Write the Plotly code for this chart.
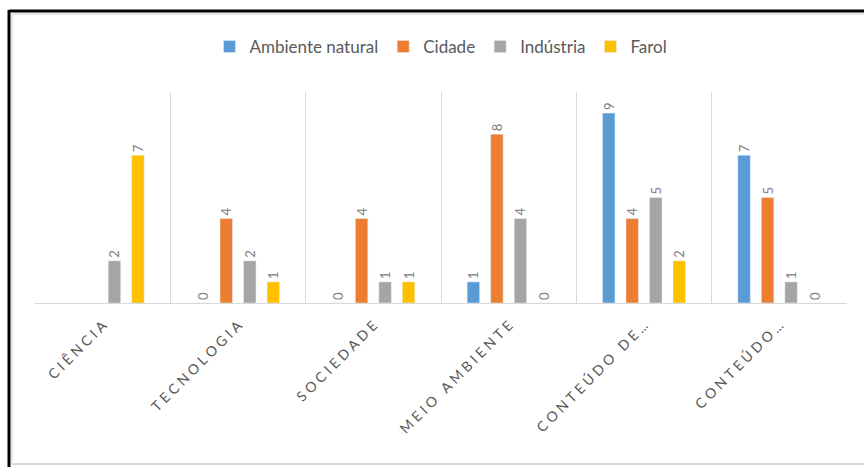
import plotly.graph_objects as go

categories = ["Ciência", "Tecnologia", "Sociedade", "Meio Ambiente", "Conteúdo de...", "Conteúdo..."]
tick_labels = ["CIÊNCIA", "TECNOLOGIA", "SOCIEDADE", "MEIO AMBIENTE", "CONTEÚDO DE...", "CONTEÚDO..."]

series_names = ["Ambiente natural", "Cidade", "Indústria", "Farol"]
ambiente_natural = [None, 0, 0, 1, 9, 7]
cidade = [None, 4, 4, 8, 4, 5]
industria = [2, 2, 1, 4, 5, 1]
farol = [7, 1, 1, 0, 2, 0]
series_values = [ambiente_natural, cidade, industria, farol]
colors = ["#5B9BD5", "#ED7D31", "#A5A5A5", "#FFC000"]

FONT = "Lato"

def spaced(s):
    out = ""
    for i, ch in enumerate(s):
        if i > 0 and not (ch == "." and s[i - 1] == "."):
            out += "\u2005"
        out += ch
    return out

fig = go.Figure()
for name, vals, col in zip(series_names, series_values, colors):
    fig.add_trace(go.Bar(
        x=categories, y=vals, name=name, marker_color=col,
        text=[("" if v is None else str(v)) for v in vals],
        textposition="outside", textangle=-90, constraintext="none",
        textfont=dict(family=FONT, size=13, color="#808080"),
        cliponaxis=False,
    ))

L, R, T, B = 35, 17, 92, 164
W, H = 864, 467
pw, ph = W - L - R, H - T - B

def px_x(p):
    return (p - L) / pw

def px_y(p):
    return (H - B - p) / ph

shapes = [
    dict(type="line", xref="paper", yref="paper", x0=px_x(9), x1=px_x(866), y0=px_y(11), y1=px_y(11),
         line=dict(color="black", width=3)),
    dict(type="line", xref="paper", yref="paper", x0=px_x(9), x1=px_x(9), y0=px_y(10), y1=px_y(470),
         line=dict(color="black", width=3)),
    dict(type="line", xref="paper", yref="paper", x0=px_x(12), x1=px_x(866), y0=px_y(464), y1=px_y(464),
         line=dict(color="#d9d9d9", width=2)),
    dict(type="line", xref="paper", yref="paper", x0=px_x(12), x1=px_x(866), y0=px_y(14), y1=px_y(14),
         line=dict(color="#e6e6e6", width=2)),
    dict(type="line", xref="paper", yref="paper", x0=px_x(12), x1=px_x(12), y0=px_y(14), y1=px_y(464),
         line=dict(color="#e6e6e6", width=2)),
]

fig.update_layout(
    width=W, height=H,
    margin=dict(l=L, r=R, t=T, b=B),
    paper_bgcolor="white", plot_bgcolor="white",
    barmode="group", bargap=0.305, bargroupgap=0.47,
    showlegend=True,
    legend=dict(orientation="h", x=0.5, xanchor="center", y=px_y(47), yanchor="middle",
                font=dict(family=FONT, size=17, color="#595959"), itemwidth=30,
                traceorder="normal"),
    xaxis=dict(
        tickmode="array", tickvals=categories, ticktext=[spaced(t) for t in tick_labels],
        tickangle=-45, tickfont=dict(family=FONT, size=14, color="#595959"),
        showgrid=True, gridcolor="#d9d9d9", gridwidth=1, tickson="boundaries",
        showline=True, linecolor="#d9d9d9", linewidth=1, ticks="", ticklen=0,
        ticklabelstandoff=8, fixedrange=True,
    ),
    yaxis=dict(range=[0, 10], visible=False, fixedrange=True),
    shapes=shapes,
)

fig.write_html("out.html")
